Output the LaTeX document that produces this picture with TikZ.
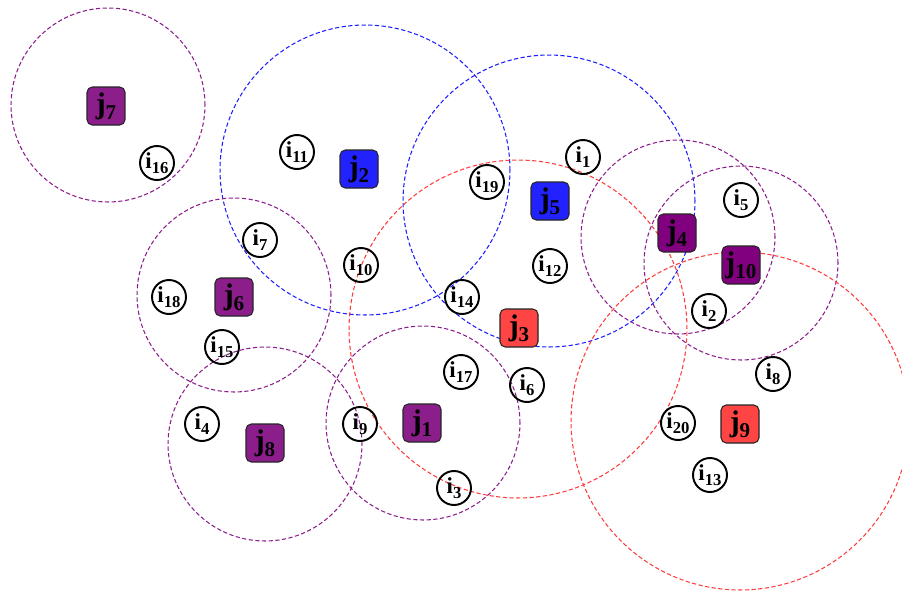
\documentclass[tikz,border=0pt]{standalone}
\usepackage{fontspec}
\setmainfont{Liberation Serif}
\usetikzlibrary{backgrounds}
\definecolor{pA}{RGB}{140,30,140}
\definecolor{pB}{RGB}{128,0,128}
\definecolor{bA}{RGB}{34,34,255}
\definecolor{rA}{RGB}{255,68,68}
\definecolor{pC}{RGB}{140,30,140}
\definecolor{bC}{RGB}{30,30,255}
\definecolor{rC}{RGB}{255,60,60}
\tikzset{
  jbox/.style={draw=black!85, line width=0.6pt, rounded corners=3pt, minimum size=0.76cm, inner sep=0pt, font=\fontsize{17}{19}\selectfont\bfseries},
  ibox/.style={circle, draw=black, line width=1.1pt, minimum size=0.68cm, inner sep=0pt, font=\fontsize{13}{15}\selectfont\bfseries},
  rng/.style={dash pattern=on 2.4pt off 1.4pt, line width=0.6pt},
}
\newcommand{\jl}[1]{\raisebox{0.1ex}{j\raisebox{-0.45ex}{\fontsize{12}{13}\selectfont #1}}}
\newcommand{\il}[1]{\raisebox{0.15ex}{i\raisebox{-0.45ex}{\fontsize{9.5}{11}\selectfont #1}}}
\begin{document}
\begin{tikzpicture}[x=0.02cm,y=-0.02cm]
\useasboundingbox (0,0) rectangle (902,593);
% j nodes
\node[jbox, fill=pA] (j7) at (106,106) {\jl{7}};
\node[jbox, fill=bA] (j2) at (359,169) {\jl{2}};
\node[jbox, fill=bA] (j5) at (550,201) {\jl{5}};
\node[jbox, fill=rA] (j3) at (519,328) {\jl{3}};
\node[jbox, fill=pB] (j4) at (677,233) {\jl{4}};
\node[jbox, fill=pB] (j10) at (741,265) {\jl{10}};
\node[jbox, fill=pA] (j6) at (234,297) {\jl{6}};
\node[jbox, fill=pA] (j8) at (265,443) {\jl{8}};
\node[jbox, fill=pA] (j1) at (422,423) {\jl{1}};
\node[jbox, fill=rA] (j9) at (740,424) {\jl{9}};
% i nodes
\node[ibox] (i16) at (157,163) {\il{16}};
\node[ibox] (i11) at (297,152) {\il{11}};
\node[ibox] (i7) at (260,240) {\il{7}};
\node[ibox] (i18) at (169,297) {\il{18}};
\node[ibox] (i15) at (222,347) {\il{15}};
\node[ibox] (i4) at (202,424) {\il{4}};
\node[ibox] (i10) at (361,265) {\il{10}};
\node[ibox] (i9) at (360,424) {\il{9}};
\node[ibox] (i19) at (487,182) {\il{19}};
\node[ibox] (i1) at (583,157) {\il{1}};
\node[ibox] (i12) at (550,266) {\il{12}};
\node[ibox] (i14) at (462,297) {\il{14}};
\node[ibox] (i17) at (461,372) {\il{17}};
\node[ibox] (i6) at (527,385) {\il{6}};
\node[ibox] (i3) at (454,488) {\il{3}};
\node[ibox] (i5) at (741,200) {\il{5}};
\node[ibox] (i2) at (709,311) {\il{2}};
\node[ibox] (i8) at (773,374) {\il{8}};
\node[ibox] (i20) at (678,423) {\il{20}};
\node[ibox] (i13) at (710,475) {\il{13}};
% ranges
\begin{pgfonlayer}{background}
\fill[white] (0,0) rectangle (902,593);
\draw[rng, pC] (108,105) circle[radius=1.94cm];
\draw[rng, bC] (365,170) circle[radius=2.9cm];
\draw[rng, bC] (549,201) circle[radius=2.92cm];
\draw[rng, rC] (518,329) circle[radius=3.38cm];
\draw[rng, pC] (678,237) circle[radius=1.94cm];
\draw[rng, pC] (741,263) circle[radius=1.94cm];
\draw[rng, pC] (234,295) circle[radius=1.94cm];
\draw[rng, pC] (265,444) circle[radius=1.94cm];
\draw[rng, pC] (423,423) circle[radius=1.94cm];
\draw[rng, rC] (740,421) circle[radius=3.38cm];
\end{pgfonlayer}
\end{tikzpicture}
\end{document}
